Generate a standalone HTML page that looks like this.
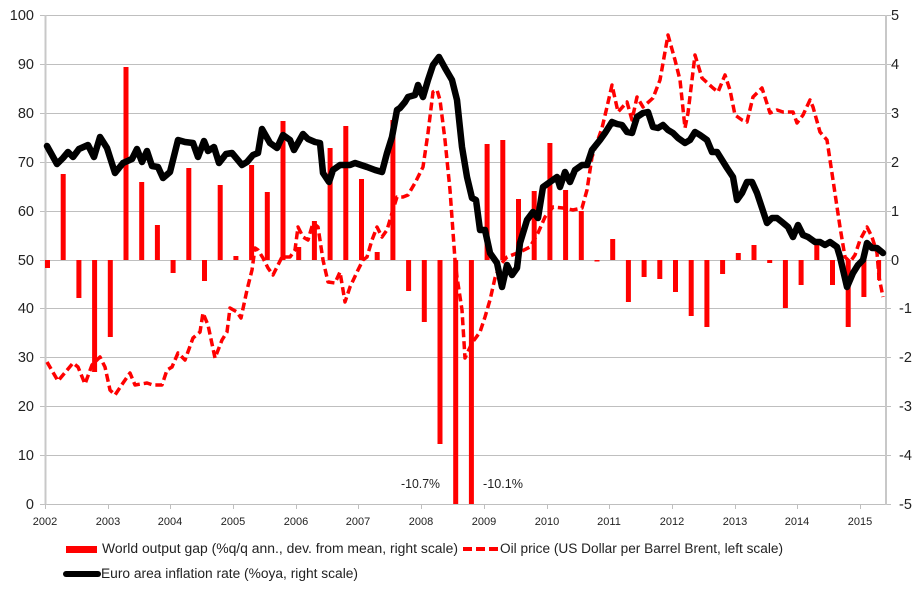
<!DOCTYPE html>
<html><head><meta charset="utf-8"><style>
html,body{margin:0;padding:0;background:#fff;}
svg{display:block;font-family:"Liberation Sans",sans-serif;}
</style></head><body>
<svg width="920" height="593" viewBox="0 0 920 593" xmlns="http://www.w3.org/2000/svg">
<rect width="920" height="593" fill="#fff"/>
<g stroke="#bfbfbf" stroke-width="1">
<line x1="40" y1="15.5" x2="891" y2="15.5"/>
<line x1="40" y1="64.5" x2="891" y2="64.5"/>
<line x1="40" y1="113.5" x2="891" y2="113.5"/>
<line x1="40" y1="162.5" x2="891" y2="162.5"/>
<line x1="40" y1="211.5" x2="891" y2="211.5"/>
<line x1="40" y1="260.5" x2="891" y2="260.5"/>
<line x1="40" y1="308.5" x2="891" y2="308.5"/>
<line x1="40" y1="357.5" x2="891" y2="357.5"/>
<line x1="40" y1="406.5" x2="891" y2="406.5"/>
<line x1="40" y1="455.5" x2="891" y2="455.5"/>
<line x1="40" y1="504.5" x2="891" y2="504.5"/>
</g>
<line x1="45.5" y1="15" x2="45.5" y2="505" stroke="#c8c8c8" stroke-width="2"/>
<line x1="886" y1="15" x2="886" y2="505" stroke="#c8c8c8" stroke-width="2"/>
<g stroke="#bfbfbf" stroke-width="1">
<line x1="45.5" y1="504" x2="45.5" y2="509"/><line x1="108.5" y1="504" x2="108.5" y2="509"/>
<line x1="170.5" y1="504" x2="170.5" y2="509"/><line x1="233.5" y1="504" x2="233.5" y2="509"/>
<line x1="296.5" y1="504" x2="296.5" y2="509"/><line x1="358.5" y1="504" x2="358.5" y2="509"/>
<line x1="421.5" y1="504" x2="421.5" y2="509"/><line x1="484.5" y1="504" x2="484.5" y2="509"/>
<line x1="547.5" y1="504" x2="547.5" y2="509"/><line x1="609.5" y1="504" x2="609.5" y2="509"/>
<line x1="672.5" y1="504" x2="672.5" y2="509"/><line x1="735.5" y1="504" x2="735.5" y2="509"/>
<line x1="797.5" y1="504" x2="797.5" y2="509"/><line x1="860.5" y1="504" x2="860.5" y2="509"/>
</g>
<g fill="#ff0000">
<rect x="45" y="260" width="5" height="8"/>
<rect x="60.7" y="174" width="5" height="86"/>
<rect x="76.4" y="260" width="5" height="38"/>
<rect x="92.1" y="260" width="5" height="112"/>
<rect x="107.8" y="260" width="5" height="77"/>
<rect x="123.5" y="67" width="5" height="193"/>
<rect x="139.2" y="182" width="5" height="78"/>
<rect x="154.9" y="225" width="5" height="35"/>
<rect x="170.6" y="260" width="5" height="13"/>
<rect x="186.3" y="168" width="5" height="92"/>
<rect x="202" y="260" width="5" height="21"/>
<rect x="217.7" y="185" width="5" height="75"/>
<rect x="233.4" y="256" width="5" height="4"/>
<rect x="249.1" y="165" width="5" height="95"/>
<rect x="264.8" y="192" width="5" height="68"/>
<rect x="280.5" y="121" width="5" height="139"/>
<rect x="296.2" y="247" width="5" height="13"/>
<rect x="311.9" y="221" width="5" height="39"/>
<rect x="327.6" y="148" width="5" height="112"/>
<rect x="343.3" y="126" width="5" height="134"/>
<rect x="359" y="179" width="5" height="81"/>
<rect x="374.7" y="252" width="5" height="8"/>
<rect x="390.4" y="120" width="5" height="140"/>
<rect x="406.1" y="260" width="5" height="31"/>
<rect x="421.8" y="260" width="5" height="62"/>
<rect x="437.5" y="260" width="5" height="184"/>
<rect x="453.2" y="260" width="5" height="244"/>
<rect x="468.9" y="260" width="5" height="244"/>
<rect x="484.6" y="144" width="5" height="116"/>
<rect x="500.3" y="140" width="5" height="120"/>
<rect x="516" y="199" width="5" height="61"/>
<rect x="531.7" y="191" width="5" height="69"/>
<rect x="547.4" y="143" width="5" height="117"/>
<rect x="563.1" y="190" width="5" height="70"/>
<rect x="578.8" y="211" width="5" height="49"/>
<rect x="594.5" y="260" width="5" height="1.5"/>
<rect x="610.2" y="239" width="5" height="21"/>
<rect x="625.9" y="260" width="5" height="42"/>
<rect x="641.6" y="260" width="5" height="17"/>
<rect x="657.3" y="260" width="5" height="19"/>
<rect x="673" y="260" width="5" height="32"/>
<rect x="688.7" y="260" width="5" height="56"/>
<rect x="704.4" y="260" width="5" height="67"/>
<rect x="720.1" y="260" width="5" height="14"/>
<rect x="735.8" y="253" width="5" height="7"/>
<rect x="751.5" y="245" width="5" height="15"/>
<rect x="767.2" y="260" width="5" height="3"/>
<rect x="782.9" y="260" width="5" height="48"/>
<rect x="798.6" y="260" width="5" height="25"/>
<rect x="814.3" y="245" width="5" height="15"/>
<rect x="830" y="260" width="5" height="25"/>
<rect x="845.7" y="260" width="5" height="67"/>
<rect x="861.4" y="260" width="5" height="37"/>
<rect x="877.1" y="260" width="4" height="20"/>
</g>
<polyline fill="none" stroke="#ff0000" stroke-width="3.5" stroke-dasharray="8 4" stroke-linejoin="round" points="47,362 58,381 73,363 78,367 85,384 92,365 100,357 105,367 110,390 115,395 123,383 130,373 135,385 147,383 153,385 162,385 167,370 172,367 178,353 185,360 193,338 200,332 203,313 208,325 215,358 222,340 227,332 230,308 237,312 241,318 247,290 252,270 255,248 258,250 263,258 268,268 273,275 277,267 282,257 290,257 295,250 298,227 303,237 308,240 313,223 318,227 323,260 328,282 335,283 340,272 345,302 350,287 358,270 363,260 367,257 372,240 377,227 382,237 387,230 392,213 397,197 403,197 408,195 415,183 423,167 428,133 433,92 437,90 440,100 445,140 450,190 455,260 457,277 462,310 465,358 472,343 480,332 485,317 490,300 495,278 500,265 507,257 520,252 530,247 538,233 545,217 553,207 563,208 573,210 582,208 587,190 592,157 602,128 607,107 612,85 618,112 627,102 632,120 637,97 643,107 653,98 660,80 668,35 675,60 680,80 685,128 688,113 695,55 702,78 713,88 718,92 725,75 730,90 735,115 742,120 747,122 753,97 762,88 770,113 777,110 783,112 793,112 797,123 803,115 810,100 813,107 820,132 827,140 833,180 840,227 845,257 850,262 855,255 860,240 867,227 872,237 877,253 879,277 883,297"/>
<polyline fill="none" stroke="#000" stroke-width="6.5" stroke-linejoin="round" stroke-linecap="round" points="47,146 52,155 57,164 63,158 68,152 73,157 79,149 88,145 94,157 100,137 107,148 115,173 123,163 132,159 137,149 142,162 147,151 152,166 158,167 163,178 170,172 178,140 185,142 193,143 198,157 204,141 208,151 214,147 219,163 226,154 232,153 242,165 247,162 253,155 258,153 262,129 270,143 277,148 283,135 290,140 294,150 303,134 308,139 315,142 320,143 323,173 329,182 333,170 340,165 350,165 355,163 367,167 375,170 382,172 387,153 392,137 397,110 400,108 405,102 408,97 415,95 418,85 423,97 428,80 433,65 439,57 445,68 452,80 457,100 462,147 467,177 472,198 476,200 480,230 485,230 490,253 497,263 502,287 507,265 512,275 517,268 520,243 527,220 533,212 538,218 543,187 550,182 557,177 560,187 565,172 570,182 575,170 582,165 587,165 592,150 600,140 605,133 612,122 617,124 622,125 627,132 632,133 637,117 643,113 648,112 653,127 658,128 663,125 668,130 673,133 678,138 685,143 690,140 695,132 700,135 707,140 712,152 717,152 722,160 727,168 733,177 737,200 742,193 747,182 752,182 757,193 762,208 767,223 772,218 777,218 782,222 788,227 793,237 798,225 803,235 808,237 815,242 820,242 825,245 830,242 837,247 840,257 847,287 853,273 858,265 863,260 867,243 872,248 877,248 883,253"/>
<g font-size="14.5" fill="#222" text-anchor="end">
<text x="34" y="20">100</text><text x="34" y="69">90</text><text x="34" y="118">80</text>
<text x="34" y="167">70</text><text x="34" y="216">60</text><text x="34" y="265">50</text>
<text x="34" y="313">40</text><text x="34" y="362">30</text><text x="34" y="411">20</text>
<text x="34" y="460">10</text><text x="34" y="509">0</text>
</g>
<g font-size="14.5" fill="#222">
<text x="891" y="20">5</text><text x="891" y="69">4</text><text x="891" y="118">3</text>
<text x="891" y="167">2</text><text x="891" y="216">1</text><text x="891" y="265">0</text>
<text x="899" y="313">-1</text><text x="899" y="362">-2</text><text x="899" y="411">-3</text>
<text x="899" y="460">-4</text><text x="899" y="509">-5</text>
</g>
<g font-size="11" fill="#222" text-anchor="middle">
<text x="45" y="525">2002</text><text x="108" y="525">2003</text><text x="170" y="525">2004</text>
<text x="233" y="525">2005</text><text x="296" y="525">2006</text><text x="358" y="525">2007</text>
<text x="421" y="525">2008</text><text x="484" y="525">2009</text><text x="547" y="525">2010</text>
<text x="609" y="525">2011</text><text x="672" y="525">2012</text><text x="735" y="525">2013</text>
<text x="797" y="525">2014</text><text x="860" y="525">2015</text>
</g>
<g font-size="13" fill="#222">
<text x="401" y="488" textLength="39" lengthAdjust="spacingAndGlyphs">-10.7%</text>
<text x="483" y="488" textLength="40" lengthAdjust="spacingAndGlyphs">-10.1%</text>
</g>
<rect x="66" y="546" width="31" height="7" fill="#ff0000"/>
<line x1="463" y1="549" x2="499" y2="549" stroke="#ff0000" stroke-width="4" stroke-dasharray="9 4"/>
<line x1="66" y1="574" x2="98" y2="574" stroke="#000" stroke-width="6" stroke-linecap="round"/>
<g font-size="13.5" fill="#222">
<text x="102" y="553" textLength="356" lengthAdjust="spacingAndGlyphs">World output gap (%q/q ann., dev. from mean, right scale)</text>
<text x="500" y="553" textLength="283" lengthAdjust="spacingAndGlyphs">Oil price (US Dollar per Barrel Brent, left scale)</text>
<text x="101" y="578" textLength="257" lengthAdjust="spacingAndGlyphs">Euro area inflation rate (%oya, right scale)</text>
</g>
</svg>
</body></html>
